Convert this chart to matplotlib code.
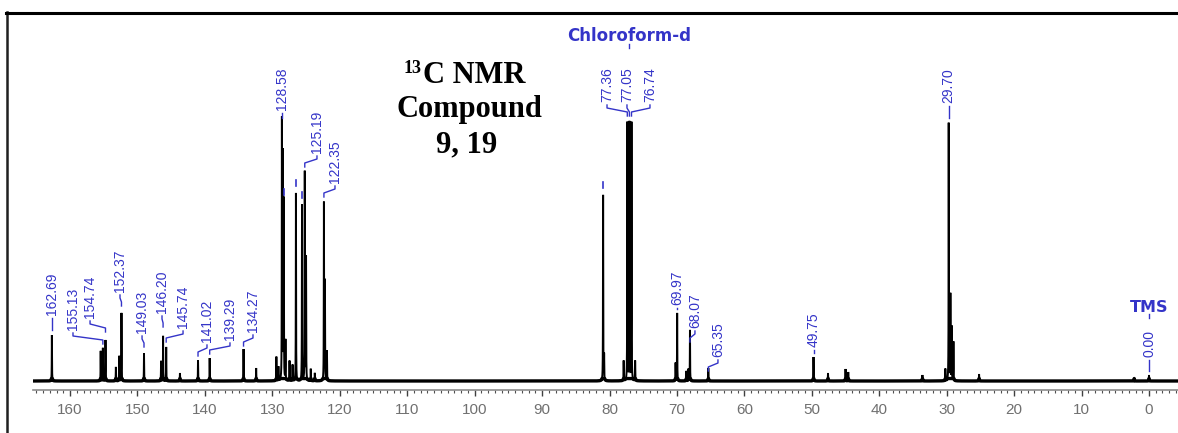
import numpy as np
import matplotlib
matplotlib.use("Agg")
import matplotlib.pyplot as plt
from matplotlib.lines import Line2D
from matplotlib.ticker import MultipleLocator

# ---- picked peaks (ppm) and their intensities (arbitrary units) ----
peak_shifts = [162.69, 155.13, 154.74, 152.37, 149.03, 146.20, 145.74, 141.02,
               139.29, 134.27, 128.58, 125.19, 122.35, 77.36, 77.05, 76.74,
               69.97, 68.07, 65.35, 49.75, 29.70, 0.00]
peak_heights = [46, 33, 41, 68, 28, 45, 34, 21,
                23, 32, 259, 209, 178, 258, 258, 258,
                68, 51, 13, 24, 258, 6]

# picked peaks whose value labels are suppressed
hidden_shifts = [128.30, 126.50, 125.60, 80.95]
hidden_heights = [179, 188, 176, 186]

# other resolved lines and baseline features
minor_shifts = [128.45, 128.05, 127.45, 127.0, 125.0, 124.3, 123.7, 122.2, 121.9,
                129.4, 129.1, 132.4, 143.7, 146.5, 152.7, 153.2, 155.45,
                80.8, 77.9, 76.2, 70.2, 68.6, 68.3,
                47.6, 45.0, 44.6, 33.6, 30.2, 29.45, 29.25, 29.0, 25.2, 2.2]
minor_heights = [224, 40, 20, 16, 123, 12, 8, 99, 30,
                 24, 14, 13, 8, 20, 25, 14, 30,
                 25, 20, 20, 18, 10, 12,
                 8, 12, 9, 6, 12, 86, 54, 39, 7, 3]

# ---- annotation layout ----
label_pos = [162.69, 159.56, 157.03, 152.59, 149.32, 146.36, 143.24, 139.69,
             136.28, 132.87, 128.58, 123.38, 120.71, 80.37, 77.41, 74.00,
             69.97, 67.33, 63.92, 49.75, 29.70, 0.00]
label_level = [66, 51, 63, 89, 48, 68, 53, 39,
               41, 49, 271, 228, 198, 279, 279, 279,
               76, 53, 24, 34, 278, 24]

W, H = 1178, 433
BLUE = "#3434c8"

fig = plt.figure(figsize=(W / 100, H / 100), dpi=100)
fig.patch.set_facecolor("white")

ax = fig.add_axes([33 / W, 1 - 390 / H, 1 - 33 / W, 370 / H])
ax.set_xlim(165.49, -4.30)
ax.set_ylim(-9, 361)

# spectrum built as a sum of narrow Lorentzian lines
ppm = np.linspace(165.5, -4.3, 80000)
hw = 0.02
spec = np.zeros_like(ppm)
for s, h in zip(peak_shifts + hidden_shifts + minor_shifts,
                peak_heights + hidden_heights + minor_heights):
    spec += h / (1 + ((ppm - s) / hw) ** 2)
# heavier stroke for the baseline region, normal stroke for the lines
ax.plot(ppm, np.minimum(spec, 2.5), color="black", lw=2.4)
ax.plot(ppm, spec, color="black", lw=1.4, solid_joinstyle="miter")

# axes styling
for side in ("left", "right", "top"):
    ax.spines[side].set_visible(False)
ax.spines["bottom"].set_color("#8c8c8c")
ax.spines["bottom"].set_linewidth(1.2)
ax.yaxis.set_visible(False)
ax.xaxis.set_major_locator(MultipleLocator(10))
ax.xaxis.set_minor_locator(MultipleLocator(1))
ax.tick_params(axis="x", which="major", length=4, width=1, color="#404040",
               labelsize=11, labelcolor="#707070", pad=5)
ax.tick_params(axis="x", which="minor", length=2.5, width=0.8, color="#505050")
for t in ax.get_xticklabels():
    t.set_fontfamily("Liberation Sans")

# value labels with connectors
for s, h, lx, lv in zip(peak_shifts, peak_heights, label_pos, label_level):
    ax.text(lx, lv, f"{s:.2f}", rotation=90, ha="center", va="bottom",
            color=BLUE, fontsize=10, family="Liberation Sans")
    if abs(lx - s) < 0.05:
        ax.plot([s, s], [lv - 3, max(h + 4, lv - 15)], color=BLUE, lw=1)
    else:
        ax.plot([lx, lx, s, s], [lv - 3, lv - 6, lv - 10, lv - 14],
                color=BLUE, lw=1)

# tick marks above suppressed picks
for s, h in zip(hidden_shifts, hidden_heights):
    ax.plot([s, s], [h + 7, h + 13], color=BLUE, lw=1.2)

# solvent and reference tags
ax.text(77.05, 345, "Chloroform-d", ha="center", va="center", color=BLUE,
        fontsize=12, fontweight="bold", family="DejaVu Sans")
ax.plot([77.05, 77.05], [333, 337], color=BLUE, lw=1)
ax.text(0.0, 74, "TMS", ha="center", va="center", color=BLUE,
        fontsize=11.5, fontweight="bold", family="DejaVu Sans")
ax.plot([0.0, 0.0], [63, 67], color=BLUE, lw=1)

# title block
def fx(px):
    return px / W

def fy(py):
    return 1 - py / H

serif = dict(family="Liberation Serif", fontweight="bold", color="black")
fig.text(fx(422), fy(73), "13", ha="right", va="baseline", fontsize=13, **serif)
fig.text(fx(423), fy(83), "C NMR", ha="left", va="baseline", fontsize=22, **serif)
fig.text(fx(469), fy(117), "Compound", ha="center", va="baseline", fontsize=22, **serif)
fig.text(fx(467), fy(152), "9, 19", ha="center", va="baseline", fontsize=22, **serif)

# surrounding frame
fig.add_artist(Line2D([fx(7), fx(7)], [0, fy(12)], color="#202020", lw=1.8,
                      transform=fig.transFigure))
fig.add_artist(Line2D([fx(6), 1], [fy(13), fy(13)], color="black", lw=2.2,
                      transform=fig.transFigure))

fig.savefig("out.png", dpi=100, facecolor="white")
